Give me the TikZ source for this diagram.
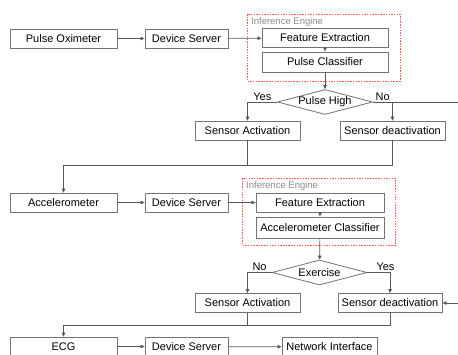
\documentclass[tikz,border=0pt]{standalone}
\usepackage{fontspec}
\setmainfont{Liberation Sans}
\usetikzlibrary{arrows.meta,shapes.geometric}

\begin{document}
\begin{tikzpicture}[x=1pt, y=-1pt, font=\fontsize{11}{13}\selectfont,
	>={Triangle[length=4pt,width=3.5pt]},
	box/.style={draw=black!55, line width=0.8pt, fill=white, inner sep=0pt, minimum height=19pt, text=black},
	test/.style={diamond, draw=black!55, line width=0.8pt, fill=white, inner sep=0pt, aspect=4, minimum width=95pt, minimum height=25pt, text=black},
	engine/.style={draw=red!65!white, dash pattern=on 1.5pt off 1.2pt, line width=0.6pt},
	tag/.style={font=\fontsize{9.5}{11}\selectfont, text=black!45, inner sep=1pt, anchor=north west},
	line/.style={draw=black!65, line width=0.7pt},
	flow/.style={line, ->}]
	\path[use as bounding box, clip] (0,0) rectangle (458,354);

	\draw[engine] (247,14) rectangle (400,81);
	\node[tag] (eng1) at (250,16) {Inference Engine};
	\node[box, minimum width=107pt] (oxi) at (63.5,38.5) {Pulse Oximeter};
	\node[box, minimum width=83pt] (srv1) at (186.5,38.5) {Device Server};
	\node[box, minimum width=126pt] (feat1) at (325,38) {Feature Extraction};
	\node[box, minimum width=126pt, minimum height=20pt] (cls1) at (325,62) {Pulse Classifier};
	\node[test] (high) at (325,102) {Pulse High};
	\node[box, minimum width=105pt] (act1) at (247.5,130.5) {Sensor Activation};
	\node[box, minimum width=105pt] (deact1) at (392.5,130.5) {Sensor deactivation};
	\coordinate (edge1) at (458,102);
	\coordinate (join1) at (0,165);

	\draw[flow] (oxi) -- (srv1);
	\draw[flow] (srv1) -- (feat1);
	\draw[flow] (feat1) -- (cls1);
	\draw[flow] (cls1) -- (high);
	\draw[flow] (high.west) -| node[pos=0.25, above, inner sep=1.5pt] {Yes} (act1);
	\draw[flow] (high.east) -| node[pos=0.25, above, inner sep=1.5pt] {No} (deact1);
	\draw[line] (high.east) -- (edge1);

	\draw[engine] (242,178) rectangle (395,245);
	\node[tag] (eng2) at (245,180) {Inference Engine};
	\node[box, minimum width=107pt] (acc) at (63.5,202.5) {Accelerometer};
	\node[box, minimum width=83pt] (srv2) at (186.5,202.5) {Device Server};
	\node[box, minimum width=128pt] (feat2) at (320,202.5) {Feature Extraction};
	\node[box, minimum width=128pt, minimum height=21pt] (cls2) at (320,227.5) {Accelerometer Classifier};
	\node[test] (exer) at (319.5,272.5) {Exercise};
	\node[box, minimum width=105pt] (act2) at (247.5,303) {Sensor Activation};
	\node[box, minimum width=104pt] (deact2) at (390,303) {Sensor deactivation};
	\coordinate (edge2) at (458,303);
	\coordinate (join2) at (0,325);

	\draw[line] (act1) -- (act1 |- join1);
	\draw[flow] (deact1) |- (join1 -| acc) -- (acc);
	\draw[flow] (acc) -- (srv2);
	\draw[flow] (srv2) -- (feat2);
	\draw[flow] (feat2) -- (cls2);
	\draw[flow] (cls2) -- (exer);
	\draw[flow] (exer.west) -| node[pos=0.25, above, inner sep=1.5pt] {No} (act2);
	\draw[flow] (exer.east) -| node[pos=0.4, above, inner sep=1.5pt] {Yes} (deact2);
	\draw[flow] (edge2) -- (deact2);

	\node[box, minimum width=107pt] (ecg) at (63.5,346.5) {ECG};
	\node[box, minimum width=83pt] (srv3) at (186.5,346.5) {Device Server};
	\node[box, minimum width=95pt] (net) at (329.5,347) {Network Interface};

	\draw[line] (act2) -- (act2 |- join2);
	\draw[flow] (deact2) |- (join2 -| ecg) -- (ecg);
	\draw[flow] (ecg) -- (srv3);
	\draw[flow] (srv3) -- (net);
\end{tikzpicture}
\end{document}
